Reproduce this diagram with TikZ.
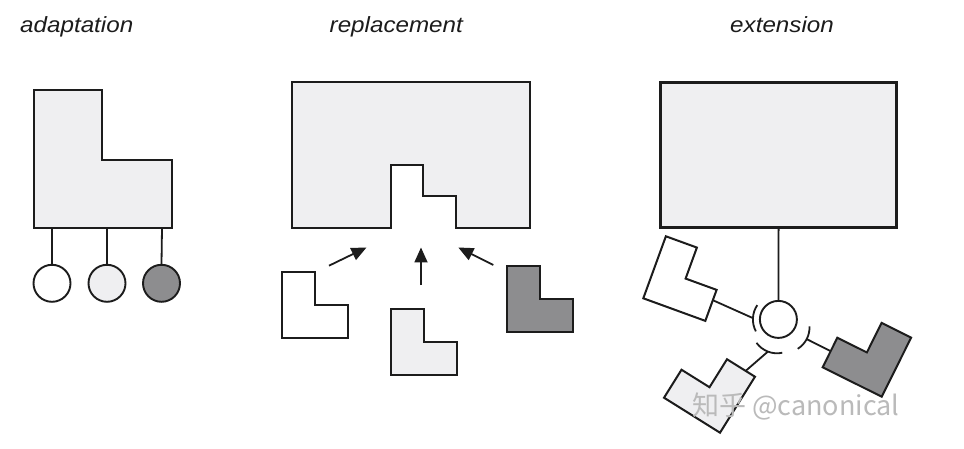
\documentclass[tikz,border=0pt]{standalone}
\usepackage{fontspec}
\setmainfont{Liberation Sans}
\newfontfamily\cjkfont{Noto Sans CJK SC}
\usetikzlibrary{arrows.meta}
\definecolor{lightg}{HTML}{EFEFF1}
\definecolor{darkg}{HTML}{8D8D8F}
\definecolor{ink}{HTML}{1C1C1C}
\tikzset{
  lpiece/.pic={
    \path[pic actions] (0,0) -- (0,-66) -- (33,-66) -- (33,-33) -- (66,-33) -- (66,0) -- cycle;
    \coordinate (-fhi) at (66,-22);
    \coordinate (-flo) at (66,-11);
    \coordinate (-top) at (18,-66);
  }
}
\begin{document}
\begin{tikzpicture}[x=1pt,y=-1pt,
  outl/.style={draw=ink, line width=2.2pt, line join=miter},
  piece/.style={draw=ink, line width=2pt, line join=miter},
  wire/.style={draw=ink, line width=1.8pt},
  ball/.style={draw=ink, line width=1.9pt},
  arrowline/.style={draw=ink, line width=1.8pt, -{Triangle[length=15pt,width=13pt]}},
  titletext/.style={font=\itshape\fontsize{22}{26}\selectfont, text=ink, anchor=base west, inner sep=0pt, xscale=1.1},
  wmtext/.style={font=\cjkfont\fontsize{27}{30}\selectfont, text=black!27, anchor=base west, inner sep=0pt}
]
\useasboundingbox (0,0) rectangle (964,449);
\fill[white] (0,0) rectangle (964,449);

% titles
\node[titletext] (t1) at (20,32.3) {adaptation};
\node[titletext] (t2) at (329.5,32.3) {replacement};
\node[titletext] (t3) at (730,32.3) {extension};

% ---------- adaptation ----------
\draw[outl, fill=lightg] (34,90) -- (102,90) -- (102,160) -- (172,160) -- (172,228) -- (34,228) -- cycle;
\coordinate (ab1) at (52,228);
\coordinate (ab2) at (107,228);
\coordinate (ab3) at (162,228);
\node[ball, circle, minimum size=37pt, inner sep=0pt, fill=white] (c1) at (52,283.3) {};
\node[ball, circle, minimum size=37pt, inner sep=0pt, fill=lightg] (c2) at (107,283.3) {};
\node[ball, circle, minimum size=37pt, inner sep=0pt, fill=darkg] (c3) at (161.5,283.3) {};
\draw[wire] (ab1) -- (c1.north);
\draw[wire] (ab2) -- (c2.north);
\draw[wire] (ab3) -- (c3.north);

% ---------- replacement ----------
\draw[outl, fill=lightg] (292.3,82.3) -- (530,82.3) -- (530,228.3) -- (455.7,228.3) -- (455.7,196)
  -- (422.7,196) -- (422.7,165) -- (390.7,165) -- (390.7,228.3) -- (292.3,228.3) -- cycle;
\pic[piece, fill=white] (rw) at (282.3,338.3) {lpiece};
\pic[piece, fill=lightg] (rl) at (390.7,375) {lpiece};
\pic[piece, fill=darkg] (rd) at (507.3,331.7) {lpiece};
\coordinate (a1s) at (329,265.7);
\coordinate (a1e) at (366.5,247.5);
\coordinate (a2s) at (421,285);
\coordinate (a2e) at (421,247.5);
\coordinate (a3s) at (493.3,265);
\coordinate (a3e) at (458.3,247.5);
\draw[arrowline] (a1s) -- (a1e);
\draw[arrowline] (a2s) -- (a2e);
\draw[arrowline] (a3s) -- (a3e);

% ---------- extension ----------
\draw[outl, line width=2.6pt, fill=lightg] (660.3,82.7) rectangle (896.3,227.7);
\coordinate (eb) at (778.6,227.7);
\node[ball, circle, minimum size=37pt, inner sep=0pt, fill=white] (ball) at (778.4,319.4) {};
\draw[wire] (eb) -- (ball.north);

% sockets
\draw[wire] (778.4,319.4) ++(152:25.5) arc[start angle=152, end angle=214, radius=25.5];
\draw[wire] (777,328) ++(78:25.3) arc[start angle=78, end angle=144, radius=25.3];
\draw[wire] (784.5,327.6) ++(-3:25) arc[start angle=-3, end angle=58, radius=25];
\coordinate (sockL) at (752.9,318.1);
\coordinate (sockB) at (767.9,351.6);
\coordinate (sockR) at (806.7,339.1);

\pic[piece, fill=white, rotate=-20] (ew) at (643.3,298.3) {lpiece};
\pic[piece, fill=lightg, rotate=58] (el) at (720,432.7) {lpiece};
\pic[piece, fill=darkg, rotate=63.5] (ed) at (881.7,396.7) {lpiece};
\draw[wire] (ew-fhi) -- (sockL);
\draw[wire] (el-flo) -- (sockB);
\draw[wire] (ed-top) -- (sockR);

% watermark
\node[wmtext] (wm) at (692,415) {知乎 @canonical};
\end{tikzpicture}
\end{document}
